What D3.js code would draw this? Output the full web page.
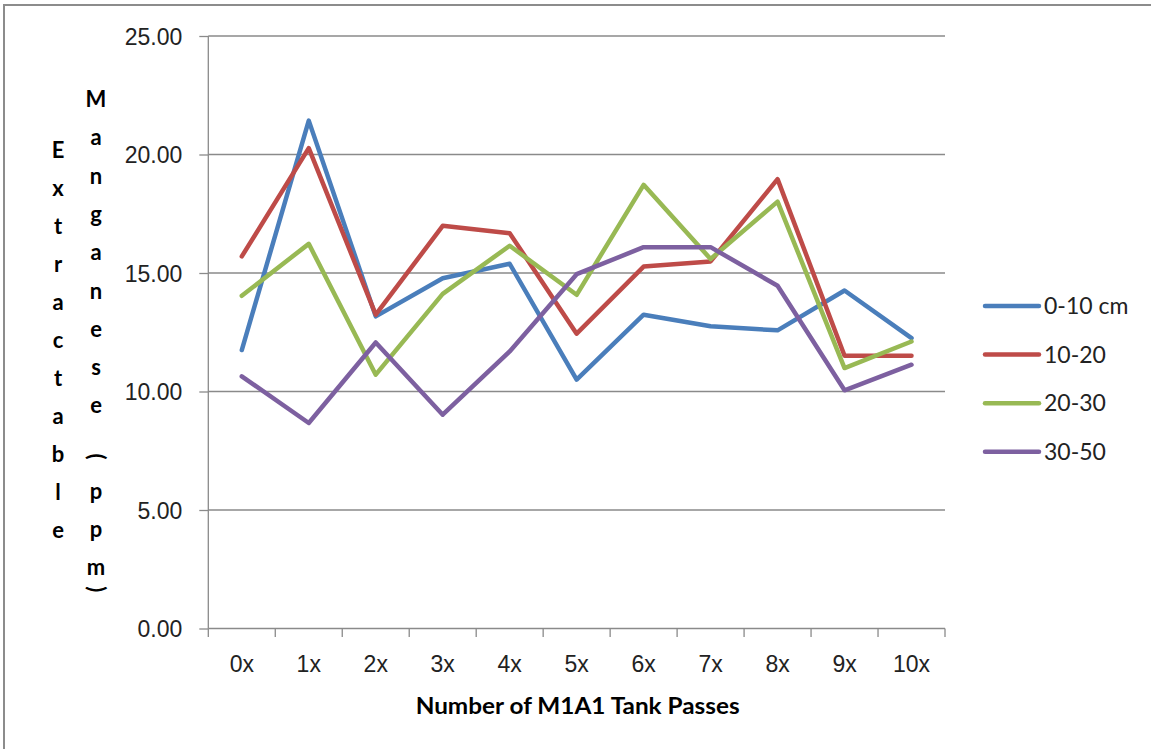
<!DOCTYPE html>
<html>
<head>
<meta charset="utf-8">
<script src="https://cdn.jsdelivr.net/npm/d3@7"></script>
<style>
  body { margin: 0; background: #fff; }
  svg { display: block; font-family: Lato, "Open Sans", sans-serif; }
  .tick text { fill: #222; }
</style>
</head>
<body>
<div id="chart"></div>
<script>
// Data
var passes = ['0x', '1x', '2x', '3x', '4x', '5x', '6x', '7x', '8x', '9x', '10x']
var depth0to10 = [11.75, 21.43, 13.17, 14.78, 15.39, 10.50, 13.24, 12.75, 12.58, 14.26, 12.25]
var depth10to20 = [15.70, 20.27, 13.24, 16.99, 16.68, 12.44, 15.27, 15.49, 18.96, 11.51, 11.51]
var depth20to30 = [14.04, 16.23, 10.71, 14.12, 16.15, 14.08, 18.72, 15.59, 18.01, 10.99, 12.11]
var depth30to50 = [10.64, 8.67, 12.07, 9.02, 11.69, 14.95, 16.09, 16.09, 14.46, 10.05, 11.13]
var yTicks = [0, 5, 10, 15, 20, 25]
var seriesNames = ['0-10 cm', '10-20', '20-30', '30-50']
var seriesColors = ['#4a7ebb', '#be4b48', '#98b954', '#7d60a0']
var xTitle = 'Number of M1A1 Tank Passes'
var yTitle1 = 'Extractable'
var yTitle2 = 'Manganese (ppm)'

var series = [depth0to10, depth10to20, depth20to30, depth30to50].map(function (vals, i) {
  return { name: seriesNames[i], color: seriesColors[i], values: vals }
})

var width = 1151
var height = 749
var plot = { left: 208.3, right: 945, top: 36, bottom: 628.5 }

var svg = d3.select('#chart').append('svg')
  .attr('width', width)
  .attr('height', height)

// outer chart border
svg.append('rect')
  .attr('x', 4).attr('y', 5)
  .attr('width', width + 20).attr('height', height + 20)
  .attr('fill', '#fff')
  .attr('stroke', '#8c8c8c')
  .attr('stroke-width', 2)

var x = d3.scaleBand().domain(passes).range([plot.left, plot.right])
var xEdges = d3.scaleLinear().domain([0, passes.length]).range([plot.left, plot.right])
var y = d3.scaleLinear().domain([0, 25]).range([plot.bottom, plot.top])

// gridlines
svg.append('g').attr('class', 'grid')
  .selectAll('line').data(yTicks.filter(function (d) { return d > 0 }))
  .enter().append('line')
  .attr('x1', plot.left).attr('x2', plot.right)
  .attr('y1', function (d) { return y(d) })
  .attr('y2', function (d) { return y(d) })
  .attr('stroke', '#8a8a8a')
  .attr('stroke-width', 1.3)

// y axis
var yAxis = svg.append('g')
  .attr('transform', 'translate(' + plot.left + ',0)')
  .call(d3.axisLeft(y).tickValues(yTicks).tickFormat(d3.format('.2f')).tickSize(9).tickPadding(17))
yAxis.selectAll('path, line').attr('stroke', '#8a8a8a').attr('stroke-width', 1.3)
yAxis.select('.domain').attr('d', 'M0,' + plot.top + 'V' + plot.bottom)
yAxis.selectAll('text').style('font-size', '23px').attr('dy', '0.36em')

// x axis: labels at band centres, ticks at band edges
var xAxis = svg.append('g')
  .attr('transform', 'translate(0,' + plot.bottom + ')')
  .call(d3.axisBottom(x).tickSize(0).tickPadding(27))
xAxis.select('.domain').attr('stroke', '#8a8a8a').attr('stroke-width', 1.3)
  .attr('d', 'M' + plot.left + ',0H' + plot.right)
xAxis.selectAll('text').style('font-size', '23px')
xAxis.selectAll('line.edge').data(d3.range(passes.length + 1))
  .enter().append('line')
  .attr('class', 'edge')
  .attr('x1', function (d) { return xEdges(d) })
  .attr('x2', function (d) { return xEdges(d) })
  .attr('y1', 0).attr('y2', 8.5)
  .attr('stroke', '#8a8a8a').attr('stroke-width', 1.3)

// series lines
var line = d3.line()
  .x(function (d, i) { return x(passes[i]) + x.bandwidth() / 2 })
  .y(function (d) { return y(d) })

svg.append('g').attr('class', 'lines')
  .selectAll('path').data(series)
  .enter().append('path')
  .attr('d', function (d) { return line(d.values) })
  .attr('fill', 'none')
  .attr('stroke', function (d) { return d.color })
  .attr('stroke-width', 4.5)
  .attr('stroke-linejoin', 'round')
  .attr('stroke-linecap', 'round')

// legend
var legend = svg.append('g').attr('class', 'legend')
  .selectAll('g').data(series)
  .enter().append('g')
  .attr('transform', function (d, i) { return 'translate(985,' + (306 + i * 48.6) + ')' })
legend.append('line')
  .attr('x1', 0).attr('x2', 54)
  .attr('stroke', function (d) { return d.color })
  .attr('stroke-width', 4.5)
  .attr('stroke-linecap', 'round')
legend.append('text')
  .attr('x', 59).attr('dy', '0.36em')
  .style('font-size', '23px')
  .attr('fill', '#222')
  .text(function (d) { return d.name })

// x title
svg.append('text')
  .attr('x', (plot.left + plot.right) / 2 + 1)
  .attr('y', 714)
  .attr('text-anchor', 'middle')
  .style('font-size', '23px')
  .style('font-weight', 'bold')
  .attr('textLength', 324)
  .attr('lengthAdjust', 'spacingAndGlyphs')
  .text(xTitle)

// y title: two stacked-letter columns
var yTitle = svg.append('g').attr('class', 'y-title')
  .style('font-size', '22px').style('font-weight', 'bold')

yTitle.selectAll('text.c1').data(yTitle1.split(''))
  .enter().append('text')
  .attr('class', 'c1')
  .attr('x', 58).attr('y', function (d, i) { return 158 + i * 38 })
  .attr('text-anchor', 'middle')
  .text(function (d) { return d })

var col2 = []
var cy = 107
yTitle2.split('').forEach(function (ch, i) {
  if (ch === ' ') return
  if (ch === '(') {
    col2.push({ ch: ch, y: cy + 43, rot: true })
    cy += 47
  } else if (ch === ')') {
    col2.push({ ch: ch, y: cy + 14, rot: true })
  } else {
    if (i > 0) cy += 38.3
    col2.push({ ch: ch, y: cy, rot: false })
  }
})
yTitle.selectAll('text.c2').data(col2)
  .enter().append('text')
  .attr('class', 'c2')
  .attr('text-anchor', 'middle')
  .attr('transform', function (d) {
    return d.rot ? 'translate(96,' + d.y + ') rotate(90)' : 'translate(96,' + d.y + ')'
  })
  .attr('dy', function (d) { return d.rot ? '0.3em' : 0 })
  .text(function (d) { return d.ch })
</script>
</body>
</html>
